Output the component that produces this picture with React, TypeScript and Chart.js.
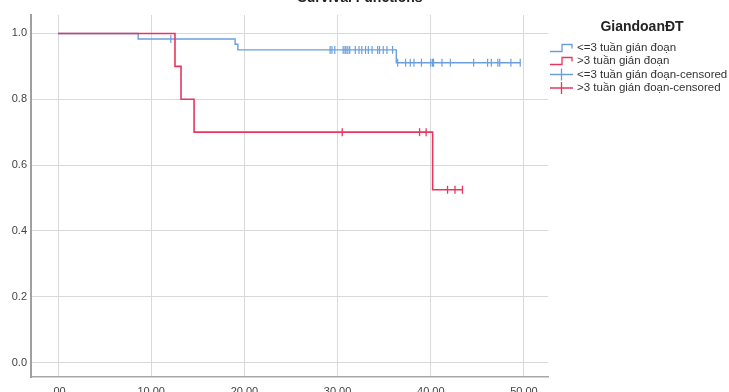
import React, { useEffect, useRef } from "react";
import { Chart, registerables } from "chart.js";

Chart.register(...registerables);

// Axis ticks
const xTickValues = [0, 10, 20, 30, 40, 50];
const xTickLabels = [".00", "10.00", "20.00", "30.00", "40.00", "50.00"];
const yTickValues = [0, 0.2, 0.4, 0.6, 0.8, 1.0];
const yTickLabels = ["0.0", "0.2", "0.4", "0.6", "0.8", "1.0"];

// Group names
const groupLabels = ["<=3 tuần gián đoạn", ">3 tuần gián đoạn"];
const censoredSuffix = "-censored";
const legendTitle = "GiandoanĐT";
const chartTitle = "Survival Functions";

// Kaplan-Meier steps: <=3 weeks interruption
const shortTimes = [0, 8.6, 19.0, 19.3, 36.3, 49.6];
const shortSurvival = [1.0, 0.983, 0.967, 0.95, 0.911, 0.911];
const shortCensored = [
  12.1, 29.2, 29.4, 29.7, 30.6, 30.8, 30.9, 31.1, 31.3, 31.9, 32.3, 32.6, 33.0,
  33.3, 33.7, 34.3, 34.5, 34.9, 35.3, 35.9, 36.45, 37.3, 37.8, 38.2, 39.0, 40.0,
  40.2, 40.3, 41.2, 42.1, 44.6, 46.1, 46.5, 47.2, 47.4, 48.6, 49.6,
];

// Kaplan-Meier steps: >3 weeks interruption
const longTimes = [0, 12.55, 13.2, 14.6, 40.2, 43.4];
const longSurvival = [1.0, 0.9, 0.8, 0.7, 0.525, 0.525];
const longCensored = [30.5, 38.8, 39.5, 41.8, 42.6, 43.4];

const BLUE = "#6b9fdc";
const RED = "#e8365f";
const FONT = "'Liberation Sans', Arial, sans-serif";

// Survival level of a step curve at time t
function survivalAt(times: number[], surv: number[], t: number): number {
  let s = surv[0];
  for (let i = 0; i < times.length; i++) {
    if (times[i] <= t) s = surv[i];
  }
  return s;
}

const overlayPlugin = {
  id: "kmOverlay",
  afterDraw(chart: Chart) {
    const ctx = chart.ctx;
    ctx.save();
    // chart heading (partly above the canvas)
    ctx.fillStyle = "#222";
    ctx.font = `bold 14px ${FONT}`;
    ctx.textAlign = "center";
    ctx.textBaseline = "alphabetic";
    ctx.fillText(chartTitle, 360, 2);

    // legend title
    ctx.font = `bold 14px ${FONT}`;
    ctx.fillText(legendTitle, 642, 31);

    const rows = [
      { label: groupLabels[0], color: BLUE, kind: "step" },
      { label: groupLabels[1], color: RED, kind: "step" },
      { label: groupLabels[0] + censoredSuffix, color: BLUE, kind: "cross" },
      { label: groupLabels[1] + censoredSuffix, color: RED, kind: "cross" },
    ];
    const x0 = 550;
    const rowY = [48, 61, 74.5, 88];
    rows.forEach((r, i) => {
      const y = rowY[i];
      ctx.strokeStyle = r.color;
      ctx.lineWidth = 1.3;
      ctx.beginPath();
      if (r.kind === "step") {
        ctx.moveTo(x0, y + 3.5);
        ctx.lineTo(x0 + 12, y + 3.5);
        ctx.lineTo(x0 + 12, y - 3.5);
        ctx.lineTo(x0 + 22, y - 3.5);
        ctx.lineTo(x0 + 22, y + 0.5);
      } else {
        ctx.moveTo(x0, y);
        ctx.lineTo(x0 + 23, y);
        ctx.moveTo(x0 + 11.5, y - 6);
        ctx.lineTo(x0 + 11.5, y + 6);
      }
      ctx.stroke();
      ctx.fillStyle = "#333";
      ctx.font = `11.5px ${FONT}`;
      ctx.textAlign = "left";
      ctx.textBaseline = "middle";
      ctx.fillText(r.label, x0 + 27, y);
    });
    ctx.restore();
  },
};

export default function App() {
  const canvasRef = useRef<HTMLCanvasElement | null>(null);

  useEffect(() => {
    if (!canvasRef.current) return;
    const stepData = (times: number[], surv: number[]) =>
      times.map((t, i) => ({ x: t, y: surv[i] }));
    const censorData = (times: number[], surv: number[], cens: number[]) =>
      cens.map((t) => ({ x: t, y: survivalAt(times, surv, t) }));

    const chart = new Chart(canvasRef.current, {
      type: "line",
      data: {
        datasets: [
          {
            label: groupLabels[1] + censoredSuffix,
            data: censorData(longTimes, longSurvival, longCensored),
            showLine: false,
            pointStyle: "line",
            rotation: 90,
            pointRadius: 4,
            pointBorderWidth: 1.3,
            borderColor: RED,
            backgroundColor: RED,
            order: 0,
          },
          {
            label: groupLabels[1],
            data: stepData(longTimes, longSurvival),
            stepped: "before",
            borderColor: RED,
            borderWidth: 1.6,
            pointRadius: 0,
            fill: false,
            order: 1,
          },
          {
            label: groupLabels[0] + censoredSuffix,
            data: censorData(shortTimes, shortSurvival, shortCensored),
            showLine: false,
            pointStyle: "line",
            rotation: 90,
            pointRadius: 4,
            pointBorderWidth: 1.2,
            borderColor: BLUE,
            backgroundColor: BLUE,
            order: 2,
          },
          {
            label: groupLabels[0],
            data: stepData(shortTimes, shortSurvival),
            stepped: "before",
            borderColor: BLUE,
            borderWidth: 1.4,
            pointRadius: 0,
            fill: false,
            order: 3,
          },
        ],
      },
      options: {
        animation: false,
        responsive: false,
        devicePixelRatio: 1,
        layout: { padding: { top: 15, right: 181, left: 0, bottom: 0 } },
        plugins: {
          legend: { display: false },
          tooltip: { enabled: false },
          title: { display: false },
        },
        scales: {
          x: {
            type: "linear",
            min: -2.9,
            max: 52.58,
            afterFit: (s: any) => {
              s.height = 15;
            },
            afterBuildTicks: (s: any) => {
              s.ticks = xTickValues.map((v) => ({ value: v }));
            },
            ticks: {
              autoSkip: false,
              maxRotation: 0,
              padding: 8,
              color: "#444",
              font: { size: 11, family: FONT },
              callback: (_v: any, i: number) => xTickLabels[i],
            },
            grid: { color: "#d9d9d9", lineWidth: 1, drawTicks: false },
            border: { display: true, color: "#a8a8a8", width: 1.5 },
          },
          y: {
            type: "linear",
            min: -0.044,
            max: 1.056,
            afterFit: (s: any) => {
              s.width = 31;
            },
            afterBuildTicks: (s: any) => {
              s.ticks = yTickValues.map((v) => ({ value: v }));
            },
            ticks: {
              autoSkip: false,
              padding: 4,
              color: "#444",
              font: { size: 11, family: FONT },
              callback: (_v: any, i: number) => yTickLabels[i],
            },
            grid: { color: "#d9d9d9", lineWidth: 1, drawTicks: false },
            border: { display: true, color: "#a0a0a0", width: 2 },
          },
        },
      },
      plugins: [overlayPlugin],
    });
    return () => chart.destroy();
  }, []);

  return (
    <div style={{ position: "absolute", left: 0, top: 0, width: 729, height: 392, background: "#fff" }}>
      <canvas ref={canvasRef} width={729} height={392} style={{ display: "block" }} />
    </div>
  );
}
